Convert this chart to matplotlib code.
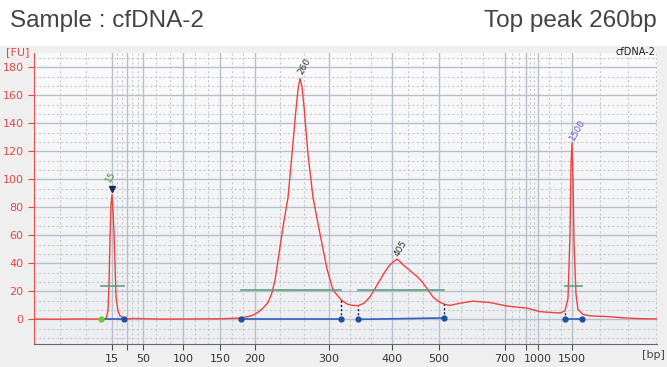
import numpy as np
import matplotlib
matplotlib.use('Agg')
import matplotlib.pyplot as plt
from matplotlib.patches import Rectangle

# ladder calibration: bp size vs migration time [s]
ladder_bp = [15, 25, 50, 100, 150, 200, 300, 400, 500, 700, 850, 1000, 1500]
ladder_time = [47.8, 49.3, 50.9, 54.9, 58.6, 62.1, 69.5, 75.8, 80.5, 87.1, 89.2, 90.4, 93.8]
labeled_bp = [15, 50, 100, 150, 200, 300, 400, 500, 700, 1000, 1500]

# electropherogram trace (time, FU)
trace_time = [40.0, 42.6, 44.6, 46.1, 46.7, 47.2, 47.4, 47.5, 47.6, 47.7, 47.8, 47.9,
              48.0, 48.1, 48.2, 48.4, 48.6, 49.0, 49.3, 50.1, 52.6, 56.6, 58.6, 60.1,
              60.7, 61.4, 61.9, 62.4, 62.9, 63.4, 63.8, 64.1, 64.4, 64.9, 65.4, 65.8,
              66.2, 66.4, 66.6, 66.8, 67.0, 67.4, 67.9, 68.6, 69.3, 69.9, 70.7, 71.3,
              71.8, 72.4, 73.0, 73.6, 74.1, 74.6, 75.1, 75.6, 76.1, 76.3, 76.5, 76.9,
              77.4, 77.9, 78.4, 78.9, 79.4, 79.9, 80.4, 80.8, 81.2, 81.6, 82.6, 83.9,
              85.6, 87.3, 89.3, 90.6, 91.6, 92.6, 93.1, 93.4, 93.6, 93.7, 93.8, 93.9,
              94.0, 94.2, 94.4, 94.9, 95.6, 97.3, 99.1, 100.6, 102.3]
trace_fu = [0.2, 0.1, 0.3, 0.2, 0.2, 0.5, 6, 25, 57, 82, 89, 78,
            62, 40, 16, 6, 2.5, 0.8, 0.4, 0.6, 0.2, 0.3, 0.4, 0.8,
            1, 2, 3, 5, 8, 12, 19, 28, 42, 66, 87, 118,
            150, 164, 172, 166, 152, 118, 87, 61, 36, 21, 14, 11,
            10, 9.8, 11.5, 16, 22, 28, 34, 39, 42, 43, 42, 39,
            36, 33, 30, 26, 21, 16, 13, 11.5, 10.5, 10, 11.5, 13,
            12, 9.5, 8, 5.5, 5, 4.5, 6, 15, 60, 110, 126, 100,
            55, 18, 7, 3.5, 2.5, 2, 1, 0.5, 0.3]

# called peaks
peak_bp = [15, 260, 405, 1500]
peak_fu = [89, 172, 43, 126]
peak_colors = ['#3a9a3a', '#333333', '#333333', '#6a5acd']
label_offset = [(0, 8), (1, 2), (4, 1), (3, 1)]

# integration regions (time) and level of the green bars
region_start = [46.7, 60.7, 72.4, 93.1]
region_end = [49.0, 70.7, 81.0, 94.8]
region_level = [24, 20.7, 20.7, 24]
region_base_end = [0, 0, 1, 0]


def bp_to_time(bp):
    return np.interp(np.log(bp), np.log(ladder_bp), ladder_time)


def main():
    fig = plt.figure(figsize=(6.67, 3.67), dpi=100)
    fig.patches.append(Rectangle((0, 0), 1, 1 - 46 / 367, transform=fig.transFigure,
                                 color='#efefef', zorder=-10))
    ax = fig.add_axes([34 / 667, 23 / 367, 623 / 667, 291 / 367])
    ax.set_xlim(40, 102.3)
    ax.set_ylim(-17.6, 190.2)
    ax.patch.set_alpha(0)

    # background gradient
    grad = np.linspace(0, 1, 100).reshape(-1, 1)
    ax.imshow(grad, extent=[0, 1, 0, 1], transform=ax.transAxes, aspect='auto',
              cmap=matplotlib.colors.LinearSegmentedColormap.from_list('bg', ['#eceef1', '#fbfbfc']),
              origin='lower', zorder=-5)

    # grid: solid at ladder / 20 FU, dashed at thirds
    for t in ladder_time:
        ax.axvline(t, color='#b7bfcb', lw=1, zorder=0)
    minor_x = []
    for a, b in zip(ladder_time[:-1], ladder_time[1:]):
        minor_x += [a + (b - a) / 3, a + 2 * (b - a) / 3]
    minor_x += list(np.arange(ladder_time[0] - 2.6, 40, -2.6))
    minor_x += list(np.arange(ladder_time[-1] + 2.8, 102.3, 2.8))
    for t in minor_x:
        ax.axvline(t, color='#c9c9c9', lw=0.8, ls=(0, (2, 2)), zorder=0)
    for f in range(0, 181, 20):
        ax.axhline(f, color='#b7bfcb', lw=1, zorder=0)
    for f in np.arange(-40 / 3, 190, 20 / 3):
        if abs(f / 20 - round(f / 20)) > 0.01:
            ax.axhline(f, color='#c9c9c9', lw=0.8, ls=(0, (2, 2)), zorder=0)

    # trace
    ax.plot(trace_time, trace_fu, color='#f04040', lw=1, zorder=3)

    # regions
    for i in range(len(region_start)):
        s, e = region_start[i], region_end[i]
        ax.plot([s, e], [region_level[i]] * 2, color='#5f9f80', lw=1.2, zorder=4)
        ax.plot([s, e], [0, region_base_end[i]], color='#3060c0', lw=1.2, zorder=4)
        ax.plot([s], [0], 'o', color='#66cc33' if i == 0 else '#1f4fa0', ms=3.5, zorder=5)
        ax.plot([e], [region_base_end[i]], 'o', color='#1f4fa0', ms=3.5, zorder=5)
        for x, y0 in [(s, 0), (e, region_base_end[i])]:
            yv = np.interp(x, trace_time, trace_fu)
            if yv > 5:
                ax.plot([x, x], [y0, yv], color='#222222', lw=1, ls=(0, (1.5, 1.5)), zorder=4)

    # peak labels
    for bp, fu, c, off in zip(peak_bp, peak_fu, peak_colors, label_offset):
        t = bp_to_time(bp)
        if bp == 15:
            ax.plot([t], [fu + 4], 'v', color='#202a50', ms=5, zorder=5)
        ax.annotate(str(bp), (t, fu), xytext=off, textcoords='offset points',
                    rotation=60, rotation_mode='anchor', ha='left', va='bottom',
                    fontsize=6.5, color=c, zorder=6)

    # axes styling
    ax.set_xticks([bp_to_time(b) for b in ladder_bp])
    ax.set_xticklabels([str(b) if b in labeled_bp else '' for b in ladder_bp],
                       fontsize=8, color='#333333')
    ax.set_yticks(range(0, 181, 20))
    ax.set_yticklabels([str(v) for v in range(0, 181, 20)], fontsize=8, color='#e04848')
    ax.tick_params(axis='y', colors='#e04848', length=4, labelcolor='#e04848')
    ax.tick_params(axis='x', colors='#555555', length=4, labelcolor='#333333')
    for s in ['top', 'right']:
        ax.spines[s].set_visible(False)
    ax.spines['left'].set_color('#e85050')
    ax.spines['bottom'].set_color('#666666')

    fig.text(6 / 667, 1 - 52 / 367, '[FU]', fontsize=8, color='#e04848', va='center')
    fig.text(655 / 667, 1 - 52 / 367, 'cfDNA-2', fontsize=7, color='#222222',
             ha='right', va='center')
    fig.text(665 / 667, 1 - 355 / 367, '[bp]', fontsize=8, color='#444444',
             ha='right', va='center')

    fig.text(10 / 667, 1 - 21 / 367, 'Sample : cfDNA-2', fontsize=17.5, color='#444444',
             va='center', family='Liberation Sans')
    fig.text(657 / 667, 1 - 21 / 367, 'Top peak 260bp', fontsize=17.5, color='#444444',
             va='center', ha='right', family='Liberation Sans')

    fig.savefig('out.png', dpi=100)


if __name__ == '__main__':
    main()
